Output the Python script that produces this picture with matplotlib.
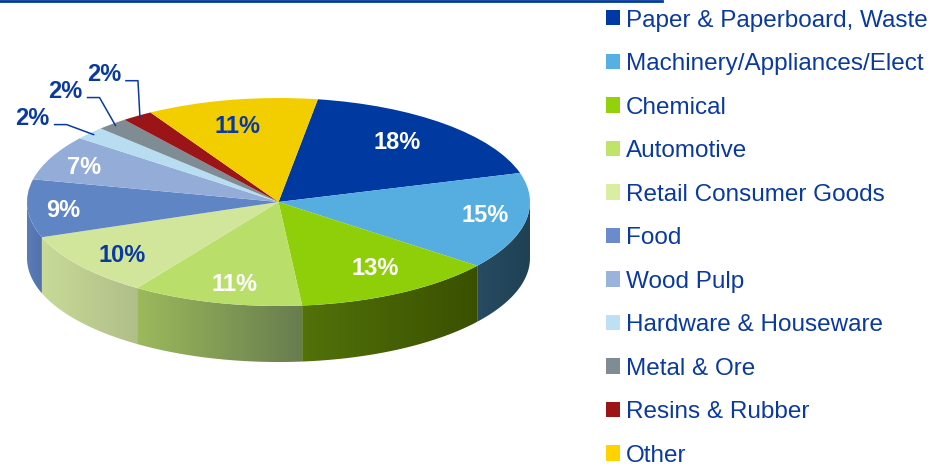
import numpy as np
import matplotlib
matplotlib.use("Agg")
import matplotlib.pyplot as plt
from matplotlib.patches import Polygon, Patch
from matplotlib.colors import to_rgb
from matplotlib.lines import Line2D

plt.rcParams["font.family"] = ["Liberation Sans", "DejaVu Sans"]

# ---------------- data ----------------
categories = ["Paper & Paperboard, Waste", "Machinery/Appliances/Elect", "Chemical",
              "Automotive", "Retail Consumer Goods", "Food", "Wood Pulp",
              "Hardware & Houseware", "Metal & Ore", "Resins & Rubber", "Other"]
shares = [18, 15, 13, 11, 10, 9, 7, 2, 2, 2, 11]
pct_labels = [f"{v}%" for v in shares]

# ---------------- style ----------------
BLUE = "#0a3aa0"
top_colors = ["#0039a0", "#55ade0", "#8ecf0a", "#b9df6a", "#d1e69a", "#6085c5",
              "#93add8", "#b8dcf0", "#7f8c94", "#9a1418", "#f2cd00"]
legend_colors = ["#0039a6", "#56b0e4", "#93d10a", "#c0e46a", "#d8eea0", "#6a8ccc",
                 "#9ab2dc", "#bfe0f4", "#7f8c94", "#9c1418", "#ffd200"]
label_colors = ["white", "white", "white", "white", BLUE, "white", "white",
                BLUE, BLUE, BLUE, BLUE]
label_radius = [0.74, 0.83, 0.75, 0.81, 0.81, 0.86, 0.84, 0.98, 0.98, 0.98, 0.74]
LABEL_ANGLE_SHIFT = 2.0
side_colors = {"Machinery/Appliances/Elect": ("#274b62", "#1f4154"),
               "Chemical": ("#52720a", "#3a5000"),
               "Automotive": ("#9cba5c", "#687c4e"),
               "Retail Consumer Goods": ("#c8da98", "#b0be88"),
               "Food": ("#5c7cb8", "#5272ac")}
outside = {"Hardware & Houseware": (-39, -10),
           "Metal & Ore": (-28, -28),
           "Resins & Rubber": (-14, -37)}

W, H = 941, 472
CX, CY, RX, RY, DEPTH = 278.5, 202.0, 251.5, 104.0, 56.0
d = DEPTH / RY

fig = plt.figure(figsize=(W / 100, H / 100), dpi=100)
ax = fig.add_axes([(CX - RX) / W, (H - (CY + RY + DEPTH)) / H,
                   2 * RX / W, (2 * RY + DEPTH) / H])

wedges, _ = ax.pie(shares, colors=top_colors, startangle=81, counterclock=False,
                   radius=1.0, center=(0, 0),
                   wedgeprops=dict(linewidth=0, antialiased=True, zorder=5))


def px2data(dx, dy):
    return dx / RX, -dy / RY


# ---------------- side walls (gradient clipped to each wall) ----------------
for w, cat, col in zip(wedges, categories, top_colors):
    a1, a2 = w.theta1, w.theta2
    light, dark = side_colors.get(cat, (col, col))
    light, dark = np.array(to_rgb(light)), np.array(to_rgb(dark))
    for k in range(-2, 3):
        lo, hi = 180 + 360 * k, 360 + 360 * k
        s, e = max(a1, lo), min(a2, hi)
        if e <= s:
            continue
        ph = np.radians(np.linspace(s, e, 200))
        xs, ys = np.cos(ph), np.sin(ph)
        poly = np.column_stack([np.r_[xs, xs[::-1]], np.r_[ys, ys[::-1] - d]])
        patch = Polygon(poly, closed=True, facecolor="none", edgecolor="none",
                        zorder=2)
        ax.add_patch(patch)
        t = np.linspace(0, 1, 256)[:, None]
        grad = (light[None, :] * (1 - t) + dark[None, :] * t)[None, :, :]
        im = ax.imshow(grad, extent=[xs.min(), xs.max(), ys.min() - d, ys.max()],
                       aspect="auto", interpolation="bilinear", zorder=2,
                       origin="lower")
        im.set_clip_path(patch)

ax.set_aspect("auto")
ax.set_xlim(-1, 1)
ax.set_ylim(-1 - d, 1)
ax.axis("off")

# ---------------- percentage labels ----------------
for w, cat, txt, tc, r in zip(wedges, categories, pct_labels, label_colors,
                              label_radius):
    mid = np.radians((w.theta1 + w.theta2) / 2)
    if cat in outside:
        ex, ey = r * np.cos(mid), r * np.sin(mid)
        ox, oy = px2data(*outside[cat])
        sx, sy = ex + ox, ey + oy
        elx, ely = sx + 12 / RX, sy
        ax.add_line(Line2D([sx, elx, ex], [sy, ely, ey], color=BLUE, lw=1.1,
                           clip_on=False, zorder=8))
        tx, ty = sx - 5 / RX, sy + 6 / RY
        ax.text(tx, ty, txt, ha="right", va="center", color=tc, fontsize=17,
                fontweight="bold", zorder=9, clip_on=False)
    else:
        m = mid + np.radians(LABEL_ANGLE_SHIFT)
        ax.text(r * np.cos(m), r * np.sin(m), txt, ha="center", va="center",
                color=tc, fontsize=17, fontweight="bold", zorder=9)

# ---------------- legend ----------------
handles = [Patch(facecolor=c, edgecolor="none") for c in legend_colors]
fig.legend(handles, categories, loc="upper left",
           bbox_to_anchor=(606 / W, 1 - 9.5 / H), bbox_transform=fig.transFigure,
           frameon=False, fontsize=17.5, labelcolor=BLUE,
           handlelength=0.58, handleheight=0.58, handletextpad=0.25,
           labelspacing=0.885, borderpad=0, borderaxespad=0)

# top rule
fig.add_artist(Line2D([0, 662 / W], [1 - 1 / H, 1 - 1 / H], color="#003a9e",
                      lw=2, transform=fig.transFigure))

fig.savefig("out.png", dpi=100)
